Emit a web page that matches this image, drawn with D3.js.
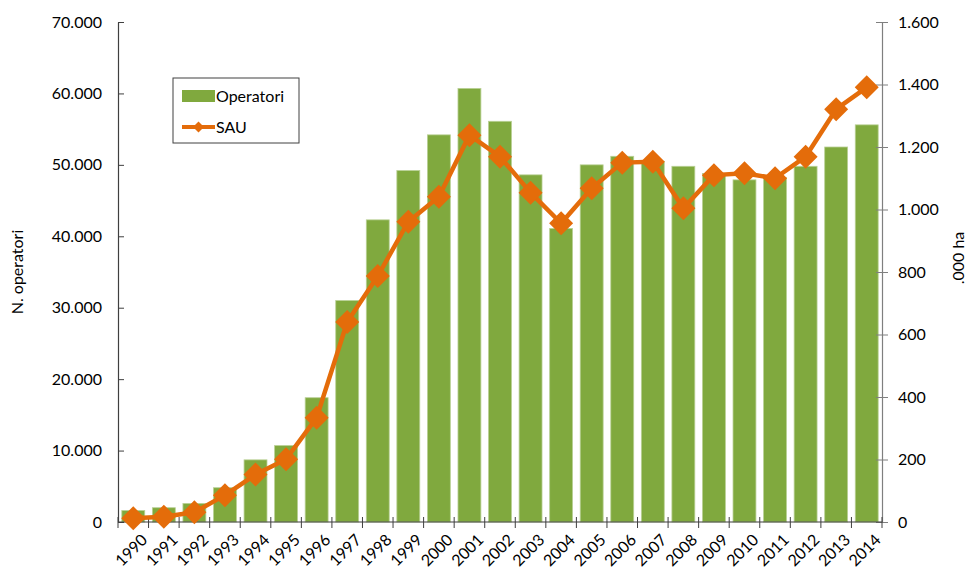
<!DOCTYPE html>
<html>
<head>
<meta charset="utf-8">
<script src="https://cdn.jsdelivr.net/npm/d3@7"></script>
<style>
  body { margin: 0; background: white; }
  text { font-family: Lato, "Liberation Sans", sans-serif; fill: #000; }
</style>
</head>
<body>
<script>
var years = ["1990", "1991", "1992", "1993", "1994", "1995", "1996", "1997", "1998", "1999",
  "2000", "2001", "2002", "2003", "2004", "2005", "2006", "2007", "2008", "2009",
  "2010", "2011", "2012", "2013", "2014"];

// N. operatori (left axis)
var operatori = [1600, 2000, 2600, 4800, 8700, 10700, 17400, 31000, 42300, 49200,
  54200, 60700, 56100, 48600, 41100, 50000, 51200, 50500, 49800, 48800,
  47900, 48200, 49800, 52500, 55600];

// SAU, .000 ha (right axis)
var sau = [12, 17, 31, 86, 152, 201, 334, 640, 787, 961,
  1041, 1238, 1169, 1054, 956, 1068, 1150, 1153, 1004, 1110,
  1116, 1100, 1169, 1321, 1391];

var leftTicks = [0, 10000, 20000, 30000, 40000, 50000, 60000, 70000];
var rightTicks = [0, 200, 400, 600, 800, 1000, 1200, 1400, 1600];

var width = 971,
  height = 572;
var margin = { top: 22, right: 89, bottom: 50, left: 118 };

var green = "#80a93e",
  orange = "#e46c0a",
  axisColor = "#3f3f3f";

// numbers with "." as thousands separator
var locale = d3.formatLocale({ decimal: ",", thousands: ".", grouping: [3], currency: ["", "€"] });
var fmt = locale.format(",");

var svg = d3.select("body")
  .append("svg")
  .attr("width", width)
  .attr("height", height);

var x = d3.scaleBand()
  .domain(years)
  .range([margin.left, width - margin.right])
  .paddingInner(0.25)
  .paddingOuter(0.125);

var yLeft = d3.scaleLinear()
  .domain([0, 70000])
  .range([height - margin.bottom, margin.top]);

var yRight = d3.scaleLinear()
  .domain([0, 1600])
  .range([height - margin.bottom, margin.top]);

var plotBottom = height - margin.bottom;
var plotRight = width - margin.right;

// bars
svg.append("g")
  .selectAll("rect")
  .data(operatori)
  .enter()
  .append("rect")
  .attr("x", function(d, i) { return x(years[i]); })
  .attr("y", function(d) { return yLeft(d); })
  .attr("width", x.bandwidth())
  .attr("height", function(d) { return plotBottom - yLeft(d); })
  .style("fill", green)
  .style("stroke", "#b9d095")
  .style("stroke-width", 0.8);

// left axis
var leftAxis = svg.append("g")
  .attr("transform", "translate(" + margin.left + ",0)")
  .call(d3.axisLeft(yLeft).tickValues(leftTicks).tickFormat(fmt).tickSizeInner(6).tickSizeOuter(0).tickPadding(10));
leftAxis.selectAll(".tick line").attr("x2", 6);

// right axis
var rightAxis = svg.append("g")
  .attr("transform", "translate(" + plotRight + ",0)")
  .call(d3.axisRight(yRight).tickValues(rightTicks).tickFormat(fmt).tickSizeInner(6).tickSizeOuter(0).tickPadding(10));
rightAxis.selectAll(".tick line").attr("x2", 6).attr("x1", -6);

[leftAxis, rightAxis].forEach(function(a) {
  a.select(".domain").style("stroke", axisColor).style("stroke-width", 1.2);
  a.selectAll(".tick line").style("stroke", axisColor);
  a.selectAll(".tick text").style("font-size", "16px").style("font-family", "Lato, sans-serif");
});
rightAxis.select(".domain").style("stroke", "#7f7f7f");
rightAxis.selectAll(".tick line").style("stroke", "#7f7f7f");

// x axis with ticks on the band boundaries
var xAxis = svg.append("g");
xAxis.append("line")
  .attr("x1", margin.left)
  .attr("x2", plotRight)
  .attr("y1", plotBottom)
  .attr("y2", plotBottom)
  .style("stroke", axisColor)
  .style("stroke-width", 1.2);

var step = x.step();
var bounds = d3.range(years.length + 1).map(function(i) { return margin.left + i * step; });
xAxis.selectAll(".xtick")
  .data(bounds)
  .enter()
  .append("line")
  .attr("class", "xtick")
  .attr("x1", function(d) { return d; })
  .attr("x2", function(d) { return d; })
  .attr("y1", plotBottom - 5)
  .attr("y2", plotBottom + 6)
  .style("stroke", axisColor);

xAxis.selectAll(".xlabel")
  .data(years)
  .enter()
  .append("text")
  .attr("class", "xlabel")
  .attr("text-anchor", "end")
  .attr("transform", function(d) {
    return "translate(" + (x(d) + x.bandwidth() / 2 + 7) + "," + (plotBottom + 11) + ") rotate(-45)";
  })
  .attr("dy", "0.71em")
  .style("font-size", "16px")
  .text(function(d) { return d; });

// SAU line
var line = d3.line()
  .x(function(d, i) { return x(years[i]) + x.bandwidth() / 2; })
  .y(function(d) { return yRight(d); });

svg.append("path")
  .datum(sau)
  .attr("d", line)
  .style("fill", "none")
  .style("stroke", orange)
  .style("stroke-width", 4.5)
  .style("stroke-linejoin", "round");

var diamond = function(r) { return "M0," + (-r) + "L" + r + ",0L0," + r + "L" + (-r) + ",0Z"; };

svg.append("g")
  .selectAll("path")
  .data(sau)
  .enter()
  .append("path")
  .attr("d", diamond(12))
  .attr("transform", function(d, i) { return "translate(" + (x(years[i]) + x.bandwidth() / 2) + "," + yRight(d) + ")"; })
  .style("fill", orange);

// axis titles
svg.append("text")
  .attr("transform", "translate(23," + (margin.top + plotBottom) / 2 + ") rotate(-90)")
  .attr("text-anchor", "middle")
  .style("font-size", "16px")
  .text("N. operatori");

svg.append("text")
  .attr("transform", "translate(964,258) rotate(-90)")
  .attr("text-anchor", "middle")
  .style("font-size", "16px")
  .text(".000 ha");

// legend
var legend = svg.append("g")
  .attr("class", "legend")
  .attr("transform", "translate(173,78)");

legend.append("rect")
  .attr("width", 126)
  .attr("height", 65)
  .style("fill", "white")
  .style("stroke", "#404040")
  .style("stroke-width", 1);

legend.append("rect")
  .attr("x", 9)
  .attr("y", 12)
  .attr("width", 33)
  .attr("height", 12)
  .style("fill", green);

legend.append("text")
  .attr("x", 43)
  .attr("y", 24)
  .style("font-size", "16px")
  .text("Operatori");

legend.append("line")
  .attr("x1", 9)
  .attr("x2", 42)
  .attr("y1", 49)
  .attr("y2", 49)
  .style("stroke", orange)
  .style("stroke-width", 4);

legend.append("path")
  .attr("d", diamond(5.5))
  .attr("transform", "translate(25.5,49)")
  .style("fill", orange);

legend.append("text")
  .attr("x", 43)
  .attr("y", 55)
  .style("font-size", "16px")
  .text("SAU");
</script>
</body>
</html>
